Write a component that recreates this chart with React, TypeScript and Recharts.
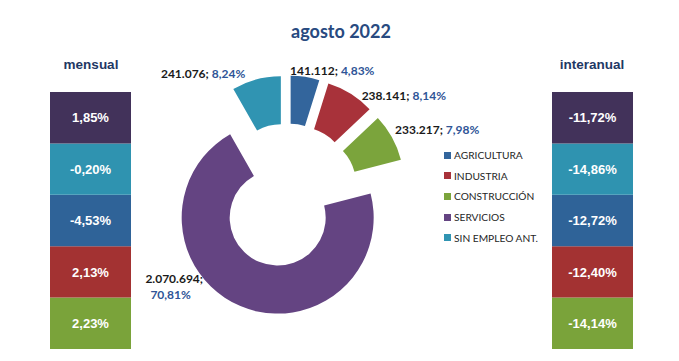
import React from "react";
import {
    PieChart,
    Pie,
    Cell,
    Sector,
    Legend,
    BarChart,
    Bar,
    XAxis,
    YAxis,
    LabelList,
} from "recharts";

// afiliados por sector, agosto 2022
const sectores = ["AGRICULTURA", "INDUSTRIA", "CONSTRUCCIÓN", "SERVICIOS", "SIN EMPLEO ANT."];
const afiliados = [141112, 238141, 233217, 2070694, 241076];
const mensual = [-4.53, 2.13, 2.23, 1.85, -0.2];
const interanual = [-12.72, -12.4, -14.14, -11.72, -14.86];

const pieColors = ["#33659C", "#A8323A", "#7BA43C", "#644482", "#3094B2"];
const boxColors = ["#2F6398", "#A33232", "#7AA33A", "#42325A", "#2F93B0"];
// boxes from bottom to top: construccion, industria, agricultura, sin empleo, servicios
const stackOrder = [2, 1, 0, 4, 3];

const EXPLODE = 24;
const LABEL_FONT = "Lato, 'DejaVu Sans', sans-serif";

const pieData = sectores.map((name, i) => ({ name, value: afiliados[i] }));
const boxRow = Object.fromEntries([["name", "x"], ...sectores.map((s) => [s, 1])]);

const miles = (v: number) => String(v).replace(/\B(?=(\d{3})+(?!\d))/g, ".");
const coma = (v: number) => v.toFixed(2).replace(".", ",") + "%";

const ExplodedSector = (props: any) => {
    const rad = (props.midAngle * Math.PI) / 180;
    return (
        <Sector
            {...props}
            cx={props.cx + EXPLODE * Math.cos(rad)}
            cy={props.cy - EXPLODE * Math.sin(rad)}
            stroke="none"
        />
    );
};

// nudges to sit like the original hand-placed excel labels
const nudge: [number, number, "start" | "end"][] = [
    [-15, -7, "start"],
    [11, 1, "start"],
    [3, -8.5, "start"],
    [-95, -28, "start"],
    [-11, -6.6, "end"],
];

const renderLabel = (p: any) => {
    const i = p.index;
    const rad = (p.midAngle * Math.PI) / 180;
    const r = p.outerRadius + EXPLODE;
    const [dx, dy, anchor] = nudge[i];
    const x = p.cx + r * Math.cos(rad) + dx;
    const y = p.cy - r * Math.sin(rad) + dy;
    const common = {
        fontFamily: LABEL_FONT,
        fontSize: 12,
        fontWeight: 700,
        dominantBaseline: "central" as const,
    };
    if (i === 3) {
        return (
            <text x={x} y={y} textAnchor="start" {...common}>
                <tspan fill="#1a1a1a">{miles(p.value)};</tspan>
                <tspan x={x + 5} dy={16} fill="#2F5597">
                    {coma(p.percent * 100)}
                </tspan>
            </text>
        );
    }
    return (
        <text x={x} y={y} textAnchor={anchor} {...common}>
            <tspan fill="#1a1a1a">{miles(p.value)}; </tspan>
            <tspan fill="#2F5597">{coma(p.percent * 100)}</tspan>
        </text>
    );
};

const LegendList = ({ payload }: any) => (
    <div style={{ fontFamily: LABEL_FONT, fontSize: 10.2, color: "#262626" }}>
        {(payload || []).map((entry: any, i: number) => (
            <div key={entry.value} style={{ display: "flex", alignItems: "center", height: 20.6 }}>
                <span
                    style={{
                        display: "inline-block",
                        width: 7,
                        height: 7,
                        background: entry.color || pieColors[i],
                        marginRight: 3,
                    }}
                />
                <span>{entry.value}</span>
            </div>
        ))}
    </div>
);

const BoxColumn = ({ values, left }: { values: number[]; left: number }) => (
    <div style={{ position: "absolute", left, top: 92 }}>
        <BarChart width={81} height={257} data={[boxRow]} margin={{ top: 0, right: 0, bottom: 0, left: 0 }} barCategoryGap={0}>
            <XAxis dataKey="name" hide />
            <YAxis hide domain={[0, 5]} />
            {stackOrder.map((i) => (
                <Bar key={sectores[i]} dataKey={sectores[i]} stackId="s" fill={boxColors[i]} isAnimationActive={false}>
                    <LabelList
                        position="center"
                        formatter={() => coma(values[i])}
                        fill="#ffffff"
                        style={{ fontFamily: "'Liberation Sans', Arial, sans-serif", fontSize: 13, fontWeight: 700 }}
                    />
                </Bar>
            ))}
        </BarChart>
    </div>
);

const headStyle: React.CSSProperties = {
    position: "absolute",
    top: 57,
    width: 120,
    textAlign: "center",
    fontFamily: "'Liberation Sans', Arial, sans-serif",
    fontWeight: 700,
    fontSize: 13.5,
    color: "#1F3864",
};

export default function App() {
    return (
        <div style={{ position: "absolute", left: 0, top: 0, width: 679, height: 361, background: "#fff", overflow: "hidden" }}>
            <div
                style={{
                    position: "absolute",
                    top: 20,
                    left: 241,
                    width: 200,
                    textAlign: "center",
                    fontFamily: LABEL_FONT,
                    fontWeight: 700,
                    fontSize: 18,
                    color: "#284A80",
                }}
            >
                agosto 2022
            </div>
            <div style={{ ...headStyle, left: 31 }}>mensual</div>
            <div style={{ ...headStyle, left: 532 }}>interanual</div>

            <div style={{ position: "absolute", left: 0, top: 0 }}>
                <PieChart width={679} height={361} margin={{ top: 0, right: 0, bottom: 0, left: 0 }}>
                    <Pie
                        data={pieData}
                        dataKey="value"
                        nameKey="name"
                        cx={287}
                        cy={195.5}
                        innerRadius={48}
                        outerRadius={96}
                        startAngle={90}
                        endAngle={-270}
                        shape={ExplodedSector}
                        label={renderLabel}
                        labelLine={false}
                        isAnimationActive={false}
                    >
                        {pieData.map((d, i) => (
                            <Cell key={d.name} fill={pieColors[i]} />
                        ))}
                    </Pie>
                    <Legend
                        layout="vertical"
                        align="right"
                        verticalAlign="top"
                        itemSorter={null}
                        content={LegendList}
                        wrapperStyle={{ position: "absolute", left: 444, top: 145, width: 140 }}
                    />
                </PieChart>
            </div>

            <BoxColumn values={mensual} left={50} />
            <BoxColumn values={interanual} left={552} />
        </div>
    );
}
